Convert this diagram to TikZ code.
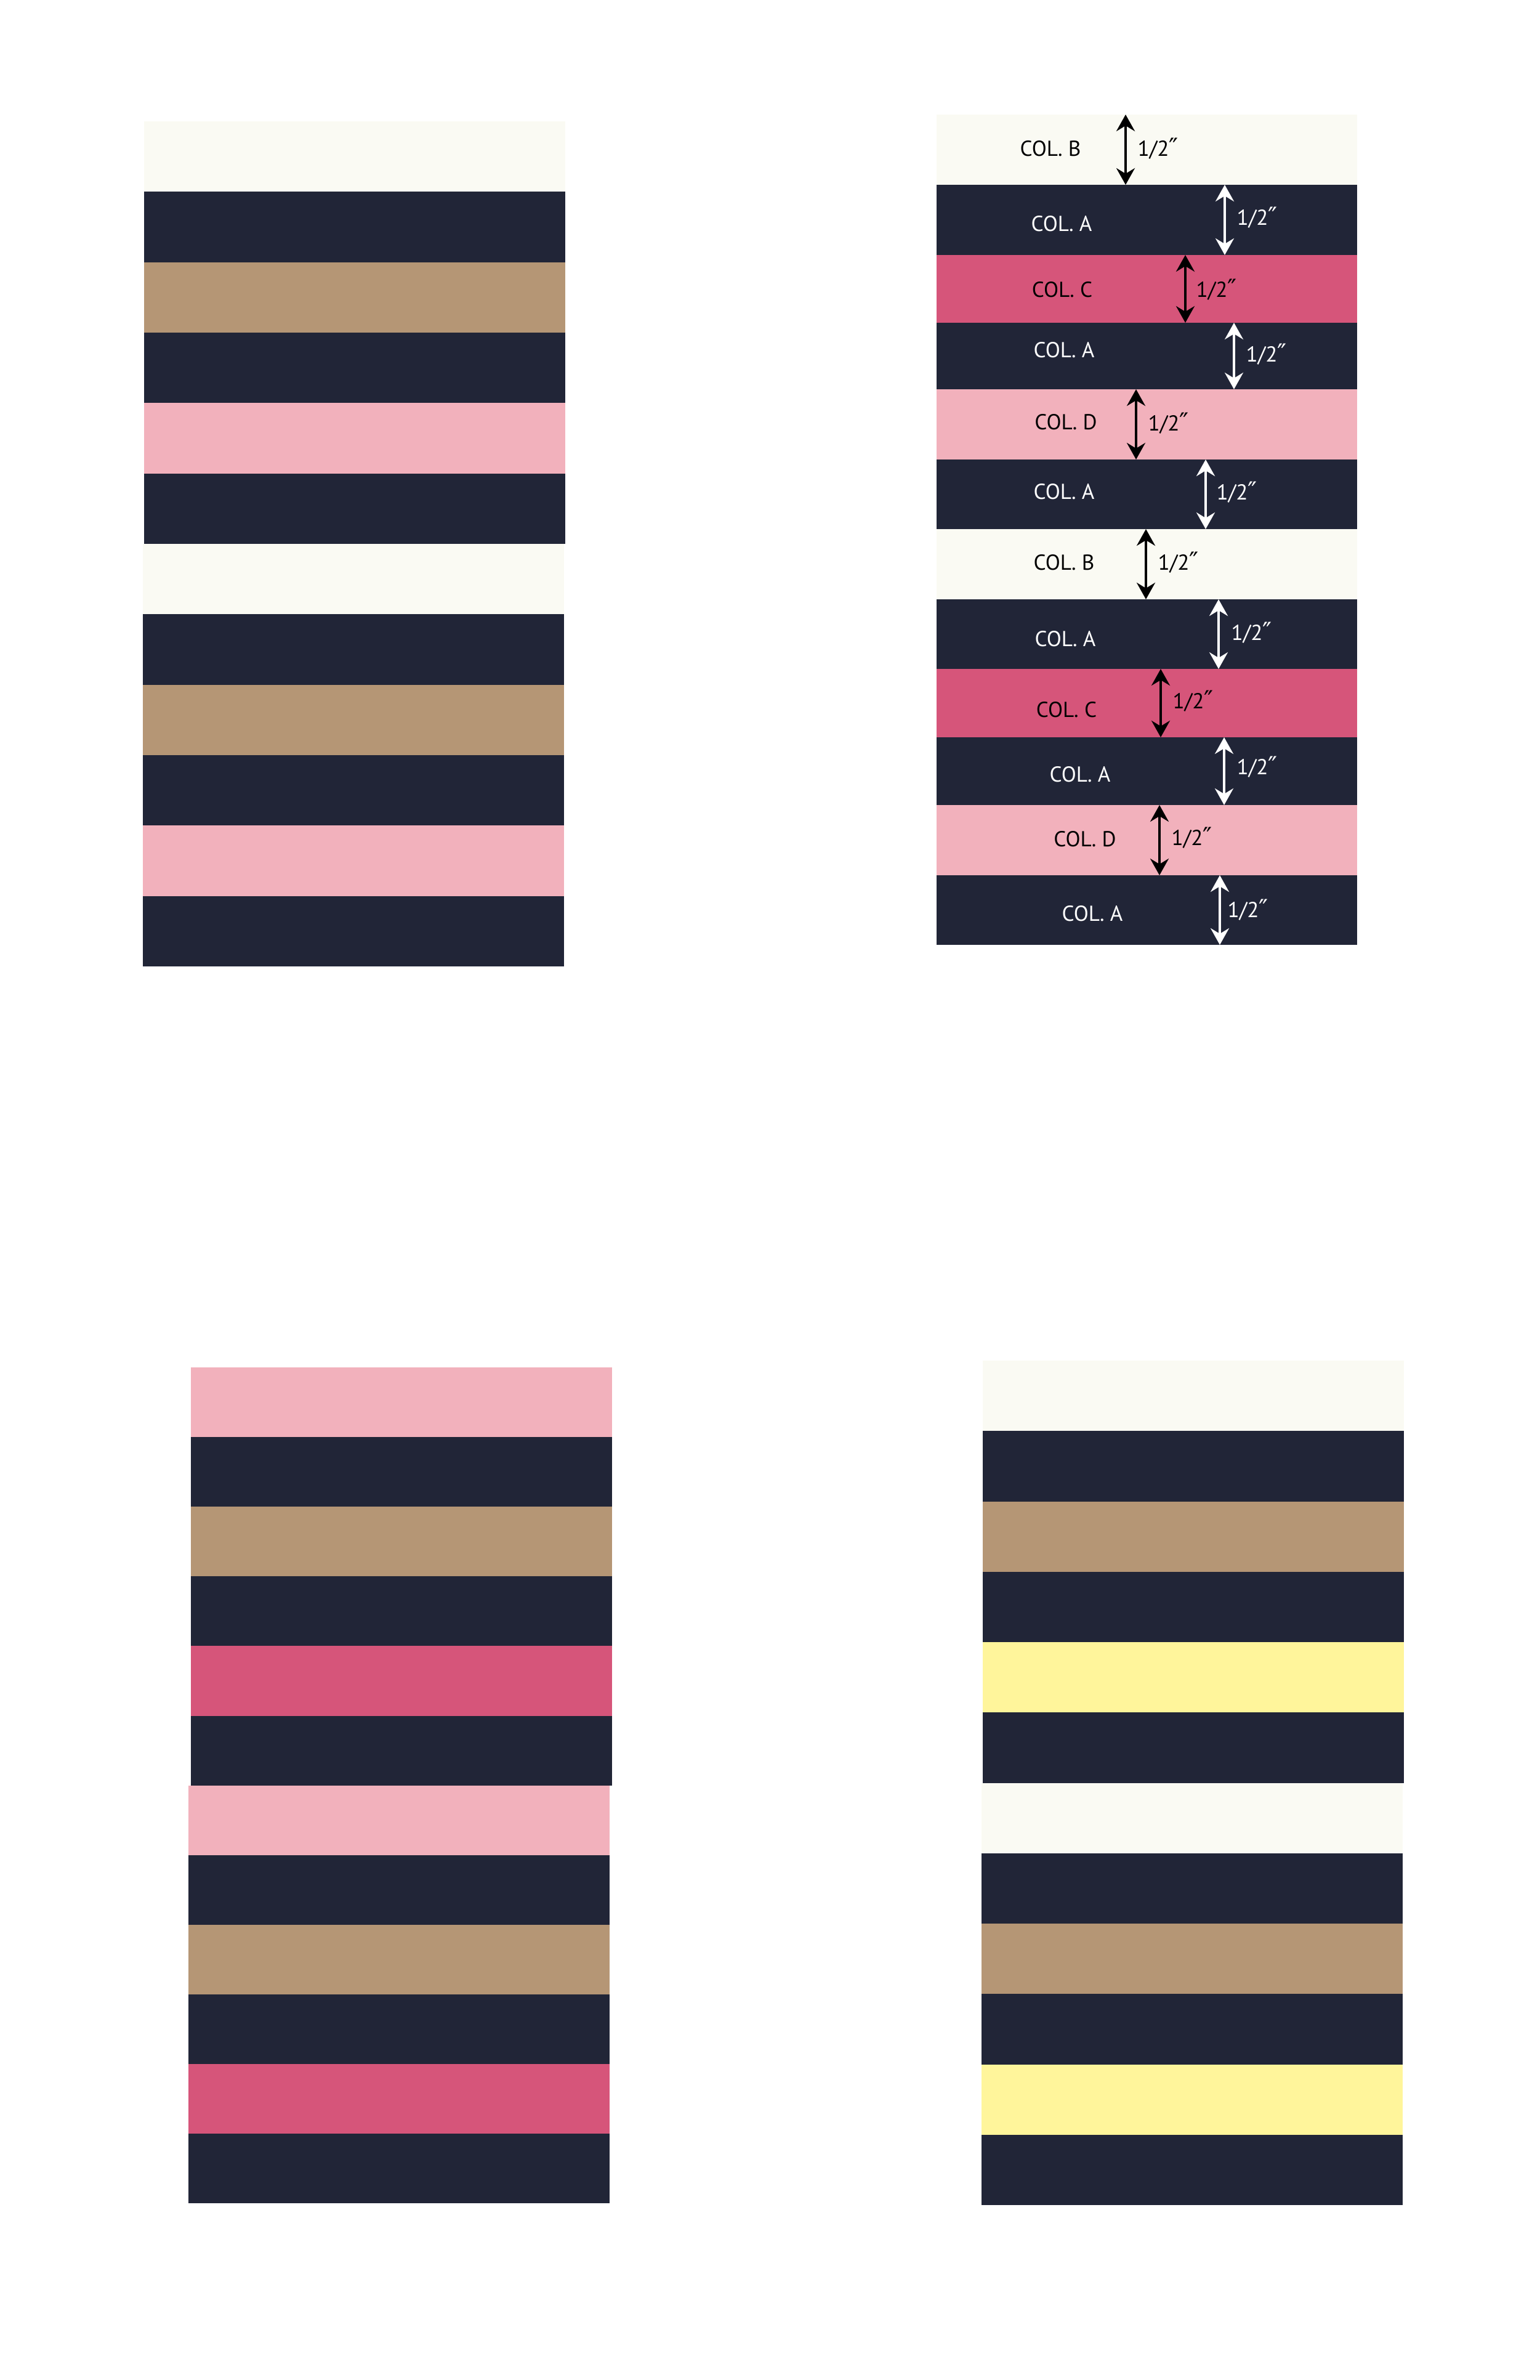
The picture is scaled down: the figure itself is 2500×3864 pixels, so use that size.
\documentclass[tikz,border=0pt]{standalone}
\usepackage{fontspec}
\setmainfont{PT Sans}
\newfontfamily\primefont{DejaVu Sans}
\usetikzlibrary{arrows.meta}
\definecolor{cream}{HTML}{FAFAF3}
\definecolor{navy}{HTML}{212537}
\definecolor{tan}{HTML}{B59675}
\definecolor{lpink}{HTML}{F2B1BC}
\definecolor{dpink}{HTML}{D6557A}
\definecolor{yel}{HTML}{FFF59B}
\tikzset{
  collab/.style={inner sep=0pt, font=\fontsize{10pt}{12pt}\selectfont},
  halflab/.style={inner sep=0pt, anchor=west, font=\fontsize{10pt}{12pt}\selectfont},
  dimarrow/.style={line width=0.38mm, {Stealth[length=2.7mm,width=3.0mm,inset=0.9mm]}-{Stealth[length=2.7mm,width=3.0mm,inset=0.9mm]}}
}
\begin{document}
\begin{tikzpicture}[x=0.1mm,y=-0.1mm]
\useasboundingbox (0,0) rectangle (2500,3864);
\fill[white] (0,0) rectangle (2500,3864);
% panel 1 (top left)
\foreach \c [count=\i from 0] in {cream,navy,tan,navy,lpink,navy,cream,navy,tan,navy,lpink,navy}{
  \pgfmathsetmacro{\sh}{\i<6 ? 0 : -2}
  \fill[\c] (234+\sh,197+\i*114.33) rectangle (918+\sh,197+\i*114.33+114.33);
}
% panel 3 (bottom left)
\foreach \c [count=\i from 0] in {lpink,navy,tan,navy,dpink,navy,lpink,navy,tan,navy,dpink,navy}{
  \pgfmathsetmacro{\sh}{\i<6 ? 0 : -4}
  \fill[\c] (310+\sh,2220+\i*113.1) rectangle (994+\sh,2220+\i*113.1+113.1);
}
% panel 4 (bottom right)
\foreach \c [count=\i from 0] in {cream,navy,tan,navy,yel,navy,cream,navy,tan,navy,yel,navy}{
  \pgfmathsetmacro{\sh}{\i<6 ? 0 : -2}
  \fill[\c] (1596+\sh,2209+\i*114.25) rectangle (2280+\sh,2209+\i*114.25+114.25);
}
% panel 2 (top right) stripes
\foreach \t/\b/\fc in {186/300/cream,300/414/navy,414/524/dpink,524/632/navy,632/746/lpink,746/859/navy,859/973/cream,973/1086/navy,1086/1197/dpink,1197/1307/navy,1307/1421/lpink,1421/1534/navy}{
  \fill[\fc] (1521,\t) rectangle (2204,\b);
}
% panel 2 labels and dimension arrows
\foreach \t/\b/\tc/\lab/\lx/\ly/\ax/\hx/\hy [count=\i] in {
  186/300/black/B/1706/241/1828/1847/241,
  300/414/white/A/1724/363/1989/2008/353,
  414/524/black/C/1725/470/1925/1942/470,
  524/632/white/A/1728/568/2004/2023/575,
  632/746/black/D/1731/685/1845/1864/687,
  746/859/white/A/1728/798/1958/1975/799,
  859/973/black/B/1728/913/1861/1880/913,
  973/1086/white/A/1730/1037/1979/1999/1027,
  1086/1197/black/C/1732/1152/1885/1904/1138,
  1197/1307/white/A/1754/1257/1988/2008/1245,
  1307/1421/black/D/1762/1362/1883/1902/1360,
  1421/1534/white/A/1774/1483/1981/1993/1477}{
  \node[collab, text=\tc] (lab\i) at (\lx,\ly) {COL. \lab};
  \coordinate (at\i) at (\ax,\t);
  \coordinate (ab\i) at (\ax,\b);
  \draw[dimarrow, draw=\tc] (at\i) -- (ab\i);
  \node[halflab, text=\tc] (half\i) at (\hx,\hy) {1/2{\primefont\fontsize{11.5pt}{13pt}\selectfont ″}};
}
\end{tikzpicture}
\end{document}
